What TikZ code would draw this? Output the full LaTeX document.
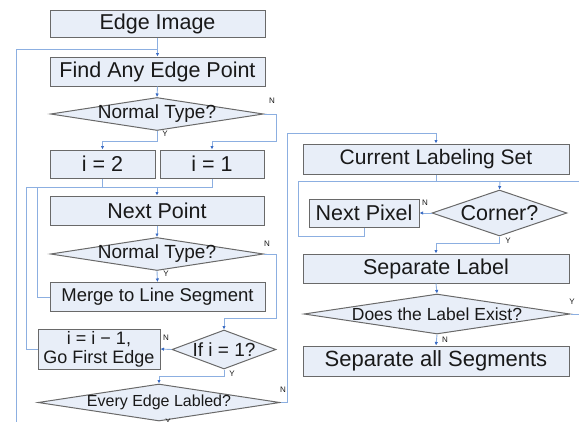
\documentclass[tikz,border=0pt]{standalone}
\usepackage{fontspec}
\setmainfont{Liberation Sans}
\usetikzlibrary{shapes.geometric,arrows.meta}
\definecolor{boxfill}{RGB}{232,238,248}
\definecolor{boxline}{RGB}{105,105,105}
\definecolor{connblue}{RGB}{140,175,225}
\definecolor{tipblue}{RGB}{55,105,195}
\definecolor{txt}{RGB}{25,25,25}
\newcommand{\fs}[1]{\fontsize{#1}{#1}\selectfont}
\tikzset{
  stepbox/.style={draw=boxline, line width=1pt, fill=boxfill, inner sep=0pt, text=txt, align=center},
  decision/.style={diamond, draw=boxline, line width=1pt, fill=boxfill, inner sep=0pt},
  conn/.style={draw=connblue, line width=0.9pt},
  arr/.style={conn, -{Latex[length=3.5pt,width=3.5pt,color=tipblue]}},
  yn/.style={font=\fs{8}, text=txt, inner sep=0pt}
}
\begin{document}
\begin{tikzpicture}[x=1pt,y=-1pt]
\useasboundingbox (0,0) rectangle (579,421);
% left column
\node[stepbox, minimum width=215pt, minimum height=27pt, font=\fs{21.5}] (edge) at (157.5,23.5) {Edge Image};
\node[stepbox, minimum width=215pt, minimum height=29pt, font=\fs{21.5}] (find) at (157.5,71.5) {Find Any Edge Point};
\node[decision, minimum width=213pt, minimum height=33pt, label={[font=\fs{19}, text=txt]center:Normal Type?}] (nt1) at (157,114) {};
\node[stepbox, minimum width=105pt, minimum height=28pt, font=\fs{21.5}] (i2) at (102.5,164) {i = 2};
\node[stepbox, minimum width=104pt, minimum height=28pt, font=\fs{21.5}] (i1) at (212,164) {i = 1};
\node[stepbox, minimum width=214pt, minimum height=29pt, font=\fs{21.5}] (np) at (157,210.5) {Next Point};
\node[decision, minimum width=213pt, minimum height=33pt, label={[font=\fs{19}, text=txt]center:Normal Type?}] (nt2) at (157,254) {};
\node[stepbox, minimum width=215pt, minimum height=29pt, font=\fs{18.5}] (merge) at (157.5,297) {Merge to Line Segment};
\node[decision, minimum width=104pt, minimum height=39pt, label={[font=\fs{19}, text=txt]center:If i = 1?}] (ifi) at (224,349.5) {};
\node[stepbox, minimum width=122pt, minimum height=40pt, font={\fontsize{18}{19}\selectfont}] (go) at (99,349) {i = i \textminus\ 1,\\Go First Edge};
\node[decision, minimum width=242pt, minimum height=37pt, label={[font=\fs{16}, text=txt]center:Every Edge Labled?}] (ev) at (159,402.5) {};
% right column
\node[stepbox, minimum width=266pt, minimum height=30pt, font=\fs{21}] (cl) at (436,159) {Current Labeling Set};
\node[decision, minimum width=135pt, minimum height=46pt, label={[font=\fs{21.5}, text=txt]center:Corner?}] (corner) at (499.5,213) {};
\node[stepbox, minimum width=110pt, minimum height=28pt, font=\fs{21.5}] (np2) at (364,213) {Next Pixel};
\node[stepbox, minimum width=266pt, minimum height=29pt, font=\fs{21.5}] (sl) at (436,268.5) {Separate Label};
\node[decision, minimum width=266pt, minimum height=40pt, label={[font=\fs{17.5}, text=txt]center:Does the Label Exist?}] (dle) at (437,314) {};
\node[stepbox, minimum width=266pt, minimum height=30pt, font=\fs{22}] (sas) at (436,361) {Separate all Segments};
% junction coordinates
\coordinate (j0) at (157,49);
\coordinate (lb) at (16,425);
\coordinate (j1) at (157,187);
\coordinate (j2) at (500,181);
\coordinate (k) at (298,181);
\coordinate (rr) at (582,181);
\coordinate (rr2) at (582,314);
\coordinate (eb) at (159,425);
% connectors left
\draw[arr] (edge.south) -- (find.north);
\draw[conn] (lb) |- (j0);
\draw[arr] (find.south) -- (nt1.north);
\draw[arr] (nt1.east) -| ++(12,27) -| (i1.north);
\draw[arr] (nt1.south) -- ++(0,10) -| (i2.north);
\draw[conn] (i2.south) |- (j1);
\draw[conn] (i1.south) |- (j1);
\draw[arr] (j1) -- (np.north);
\draw[arr] (np.south) -- (nt2.north);
\draw[arr] (nt2.south) -- (merge.north);
\draw[conn] (merge.west) -- ++(-12,0) |- (j1);
\draw[arr] (nt2.east) -| ++(12,64) -| (ifi.north);
\draw[arr] (ifi.west) -- (go.east);
\draw[conn] (go.west) -- ++(-11,0) |- (j1);
\draw[arr] (ifi.south) -- ++(0,7) -| (ev.north);
\draw[arr] (ev.east) -| ++(7,-269) -| (cl.north);
\draw[conn] (ev.south) -- (eb);
% connectors right
\draw[conn] (cl.south) |- (j2);
\draw[conn] (rr) -- (j2);
\draw[arr] (j2) -- (corner.north);
\draw[arr] (corner.west) -- (np2.east);
\draw[conn] (np2.south) -- ++(0,9) -| (k) -- (j2);
\draw[arr] (corner.south) -- ++(0,7) -| (sl.north);
\draw[arr] (sl.south) -- (dle.north);
\draw[conn] (dle.east) -- (rr2);
\draw[arr] (dle.south) -- (sas.north);
% Y / N labels
\node[yn] (l1) at (272,101) {N};
\node[yn] (l2) at (165,134) {Y};
\node[yn] (l3) at (267,244) {N};
\node[yn] (l4) at (166,274) {Y};
\node[yn] (l5) at (166,338) {N};
\node[yn] (l6) at (232,374) {Y};
\node[yn] (l7) at (283,390) {N};
\node[yn] (l8) at (168,421.5) {Y};
\node[yn] (l9) at (425,203) {N};
\node[yn] (l10) at (508,241) {Y};
\node[yn] (l11) at (572,302) {Y};
\node[yn] (l12) at (445,340) {N};
\end{tikzpicture}
\end{document}
